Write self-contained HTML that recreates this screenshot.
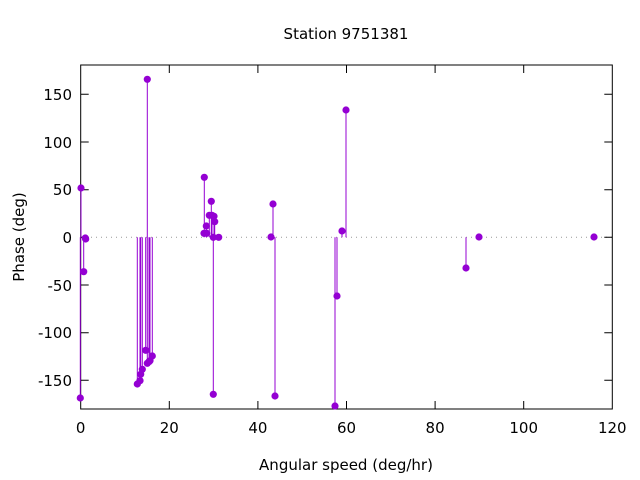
<!DOCTYPE html>
<html><head><meta charset="utf-8"><style>body{margin:0;background:#fff}svg{display:block}text{font-family:"DejaVu Sans","Liberation Sans",sans-serif;font-size:15px;fill:#000}</style></head><body>
<svg width="640" height="480" xmlns="http://www.w3.org/2000/svg">
<rect width="640" height="480" fill="#fff"/>
<line x1="81" y1="237.3" x2="612" y2="237.3" stroke="#999" stroke-dasharray="1,4"/>
<g stroke="#000" stroke-width="1">
<rect x="80.7" y="65" width="531.6" height="344" fill="none"/>
<path d="M80.7 94.3h8M80.7 142h8M80.7 189.7h8M80.7 237.3h8M80.7 285h8M80.7 332.7h8M80.7 380.3h8M612.3 94.3h-8M612.3 142h-8M612.3 189.7h-8M612.3 237.3h-8M612.3 285h-8M612.3 332.7h-8M612.3 380.3h-8"/>
<path d="M169.3 409v-8M257.9 409v-8M346.5 409v-8M435.1 409v-8M523.7 409v-8M169.3 65v8M257.9 65v8M346.5 65v8M435.1 65v8M523.7 65v8"/>
</g>
<g text-anchor="end">
<text x="72" y="100">150</text><text x="72" y="148">100</text><text x="72" y="195">50</text><text x="72" y="243">0</text><text x="72" y="291">-50</text><text x="72" y="338">-100</text><text x="72" y="386">-150</text>
</g>
<g text-anchor="middle">
<text x="80.7" y="433">0</text><text x="169.3" y="433">20</text><text x="257.9" y="433">40</text><text x="346.5" y="433">60</text><text x="435.1" y="433">80</text><text x="523.7" y="433">100</text><text x="612.3" y="433">120</text>
<text x="346" y="39">Station 9751381</text>
<text x="346" y="470">Angular speed (deg/hr)</text>
<text transform="translate(24,237) rotate(-90)">Phase (deg)</text>
</g>
<g stroke="#9400d3" stroke-width="1">
<path d="M81 237.3V188M80.3 237.3V398M85.3 237.3V238M85.7 237.3V239M83.7 237.3V271.7
M137.3 237.3V384M140 237.3V380.7M140.7 237.3V374.3M142.3 237.3V369.3M145.7 237.3V350.3M147.3 237.3V79.3M147.3 237.3V363.3M149 237.3V361.7M150 237.3V360.7M152.3 237.3V356
M204.3 237.3V177.3M211.3 237.3V201.3M206.3 237.3V226M204 237.3V233.3M206.7 237.3V233.3M209.3 237.3V215.3M212 237.3V215.3M214 237.3V216.3M214.7 237.3V221.7M213.3 237.3V394.3
M271 237.3V237M273 237.3V204M275 237.3V396M335 237.3V406M337 237.3V296M342 237.3V231M346 237.3V110M466 237.3V268"/>
</g>
<g fill="#9400d3">
<circle cx="81" cy="188" r="3.6"/><circle cx="80.3" cy="398" r="3.6"/><circle cx="85.3" cy="238" r="3.6"/><circle cx="85.7" cy="239" r="3.6"/><circle cx="83.7" cy="271.7" r="3.6"/>
<circle cx="137.3" cy="384" r="3.6"/><circle cx="140" cy="380.7" r="3.6"/><circle cx="140.7" cy="374.3" r="3.6"/><circle cx="142.3" cy="369.3" r="3.6"/><circle cx="145.7" cy="350.3" r="3.6"/><circle cx="147.3" cy="79.3" r="3.6"/><circle cx="147.3" cy="363.3" r="3.6"/><circle cx="149" cy="361.7" r="3.6"/><circle cx="150" cy="360.7" r="3.6"/><circle cx="152.3" cy="356" r="3.6"/>
<circle cx="204.3" cy="177.3" r="3.6"/><circle cx="211.3" cy="201.3" r="3.6"/><circle cx="206.3" cy="226" r="3.6"/><circle cx="204" cy="233.3" r="3.6"/><circle cx="206.7" cy="233.3" r="3.6"/><circle cx="209.3" cy="215.3" r="3.6"/><circle cx="212" cy="215.3" r="3.6"/><circle cx="214" cy="216.3" r="3.6"/><circle cx="214.7" cy="221.7" r="3.6"/><circle cx="213.3" cy="237.3" r="3.6"/><circle cx="213.3" cy="394.3" r="3.6"/><circle cx="218.7" cy="237.3" r="3.6"/>
<circle cx="271" cy="237" r="3.6"/><circle cx="273" cy="204" r="3.6"/><circle cx="275" cy="396" r="3.6"/><circle cx="335" cy="406" r="3.6"/><circle cx="337" cy="296" r="3.6"/><circle cx="342" cy="231" r="3.6"/><circle cx="346" cy="110" r="3.6"/><circle cx="466" cy="268" r="3.6"/><circle cx="479" cy="237" r="3.6"/><circle cx="594" cy="237" r="3.6"/>
</g>
</svg>
</body></html>
